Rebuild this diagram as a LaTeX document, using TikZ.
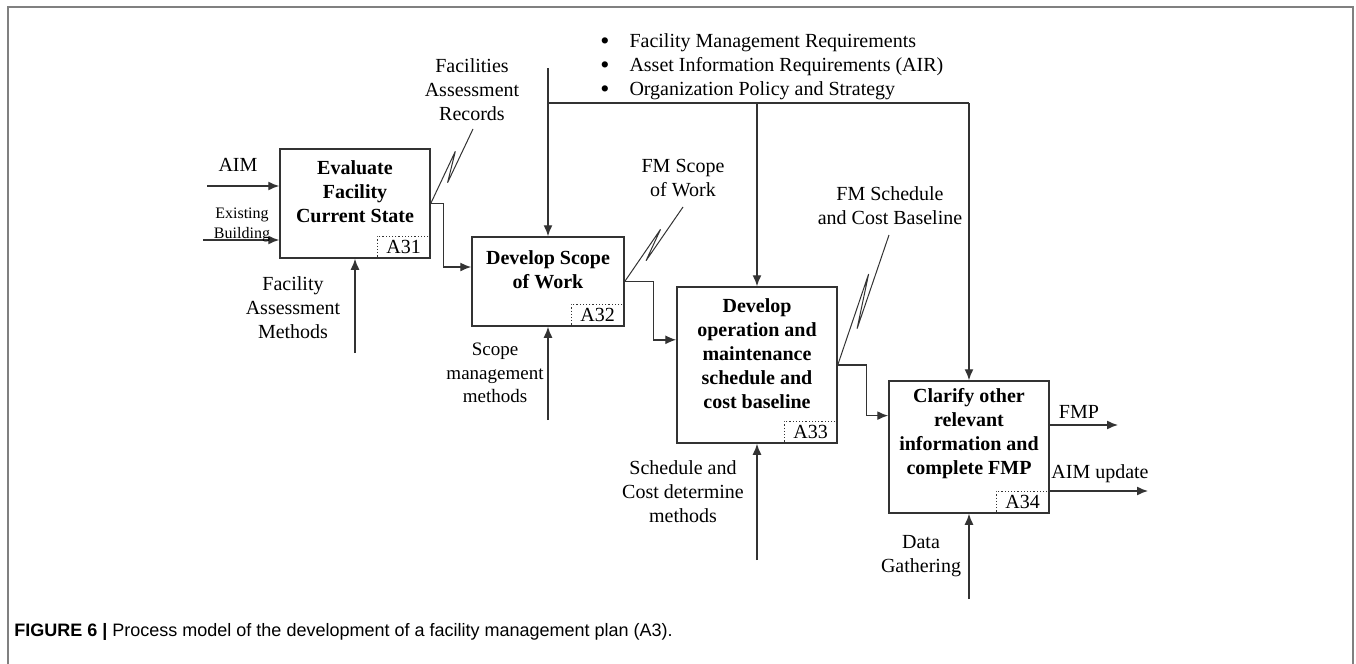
\documentclass[tikz,border=0pt]{standalone}
\usepackage{fontspec}
\setmainfont{Liberation Serif}
\setsansfont{Liberation Sans}
\usetikzlibrary{arrows.meta,calc}

\begin{document}
\begin{tikzpicture}[x=0.5pt,y=-0.5pt]
\tikzstyle{bx} = [draw=black!80,line width=0.75pt,inner sep=0] %activity box
\tikzstyle{bt} = [align=center,inner sep=0,font=\bfseries\fontsize{10}{12}\selectfont] %box title
\tikzstyle{tg} = [draw=black!80,densely dotted,line width=0.6pt,minimum width=26.5pt,minimum height=11pt,inner sep=0,anchor=south east,font=\fontsize{10}{12}\selectfont] %node tag
\tikzstyle{lb} = [align=center,inner sep=0,font=\fontsize{10}{12}\selectfont] %arrow label
\tikzstyle{ar} = [-{Latex[length=5.5pt,width=4.5pt]},line width=0.7pt,draw=black!80] %flow
\tikzstyle{zz} = [line width=0.5pt,draw=black!80] %squiggle
\useasboundingbox (0,0) rectangle (1356,664);
\draw[line width=1pt,gray] (8,664) -- (8,7) -- (1353,7) -- (1353,664);

% activities
\node[bx,minimum width=75pt,minimum height=54.5pt](a31)at(355,203.5){};
\node[bx,minimum width=76pt,minimum height=44.5pt](a32)at(548,281.5){};
\node[bx,minimum width=80pt,minimum height=78pt](a33)at(757,365){};
\node[bx,minimum width=80pt,minimum height=66pt](a34)at(969,447){};
\node[bt](t31)at([yshift=5.75pt]a31.center){Evaluate\\Facility\\Current State};
\node[bt](t32)at([yshift=5.75pt]a32.center){Develop Scope\\of Work};
\node[bt](t33)at([yshift=5.5pt]a33.center){Develop\\operation and\\maintenance\\schedule and\\cost baseline};
\node[bt](t34)at([yshift=6.5pt]a34.center){Clarify other\\relevant\\information and\\complete FMP};
\node[tg](g31)at(a31.south east){A31};
\node[tg](g32)at(a32.south east){A32};
\node[tg](g33)at(a33.south east){A33};
\node[tg](g34)at(a34.south east){A34};

% inputs and outputs
\coordinate(aim)at(207,186);
\coordinate(exb)at(203,240);
\coordinate(fmp)at(1118,425);
\coordinate(aimu)at(1148,491);
\draw[ar](aim) -- (aim -| a31.west);
\draw[ar](exb) -- (exb -| a31.west);
\draw[ar](fmp -| a34.east) -- (fmp);
\draw[ar](aimu -| a34.east) -- (aimu);
\node[lb](laim)at(238,165){AIM};
\node[lb,font=\fontsize{8}{10}\selectfont](lexb)at(242,225){Existing\\Building};
\node[lb](lfmp)at(1079,412){FMP};
\node[lb](laimu)at(1100,474){AIM update};

% flows between activities
\coordinate(i32)at($(a32.north west)!0.34!(a32.south west)$);
\coordinate(i33)at($(a33.north west)!0.34!(a33.south west)$);
\coordinate(i34)at($(a34.north west)!0.265!(a34.south west)$);
\draw[ar](a31.east) -- ++(13,0) |- (i32);
\draw[ar](a32.east) -- ++(29,0) |- (i33);
\draw[ar](a33.east) -- ++(29,0) |- (i34);

% squiggles to output labels
\coordinate(r31)at(473,129);
\coordinate(r32)at(683,207);
\coordinate(r33)at(889,235);
\draw[zz](a31.east) -- ($(a31.east)!0.7!(r31)+(-5,0)$) -- ($(a31.east)!0.28!(r31)+(5,0)$) -- (r31);
\draw[zz](a32.east) -- ($(a32.east)!0.7!(r32)+(-5,0)$) -- ($(a32.east)!0.28!(r32)+(5,0)$) -- (r32);
\draw[zz](a33.east) -- ($(a33.east)!0.7!(r33)+(-5,0)$) -- ($(a33.east)!0.28!(r33)+(5,0)$) -- (r33);
\node[lb](l31)at(472,90){Facilities\\Assessment\\Records};
\node[lb](l32)at(683,178){FM Scope\\of Work};
\node[lb](l33)at(890,206){FM Schedule\\and Cost Baseline};

% controls from the top
\node[lb,anchor=west,align=left](req)at(600,67){\begin{tabular}{@{}l@{\hspace{10pt}}l@{}}
\raisebox{-0.2ex}{\scalebox{1.3}{\textbullet}} & Facility Management Requirements\\
\raisebox{-0.2ex}{\scalebox{1.3}{\textbullet}} & Asset Information Requirements (AIR)\\
\raisebox{-0.2ex}{\scalebox{1.3}{\textbullet}} & Organization Policy and Strategy
\end{tabular}};
\coordinate(ctl)at(548,68);
\coordinate(bar)at(969,103);
\draw[line width=0.7pt,draw=black!80](ctl |- bar) -- (bar);
\draw[ar](ctl) -- (a32.north);
\draw[ar](a33.north |- bar) -- (a33.north);
\draw[ar](bar) -- (a34.north);

% mechanisms from below
\coordinate(m31)at(355,353);
\coordinate(m32)at(548,420);
\coordinate(m33)at(757,560);
\coordinate(m34)at(969,599);
\draw[ar](m31) -- (a31.south);
\draw[ar](m32) -- (a32.south);
\draw[ar](m33) -- (a33.south);
\draw[ar](m34) -- (a34.south);
\node[lb](l41)at(293,308){Facility\\Assessment\\Methods};
\node[lb,font=\fontsize{9.5}{11.75}\selectfont](l42)at(495,373){Scope\\management\\methods};
\node[lb](l43)at(683,492){Schedule and\\Cost determine\\methods};
\node[lb](l44)at(921,556){Data\\Gathering};

% caption
\node[anchor=west,inner sep=0,font=\sffamily\fontsize{9}{11}\selectfont](cap)at(14,632){\textbf{FIGURE 6 |} Process model of the development of a facility management plan (A3).};
\end{tikzpicture}
\end{document}
